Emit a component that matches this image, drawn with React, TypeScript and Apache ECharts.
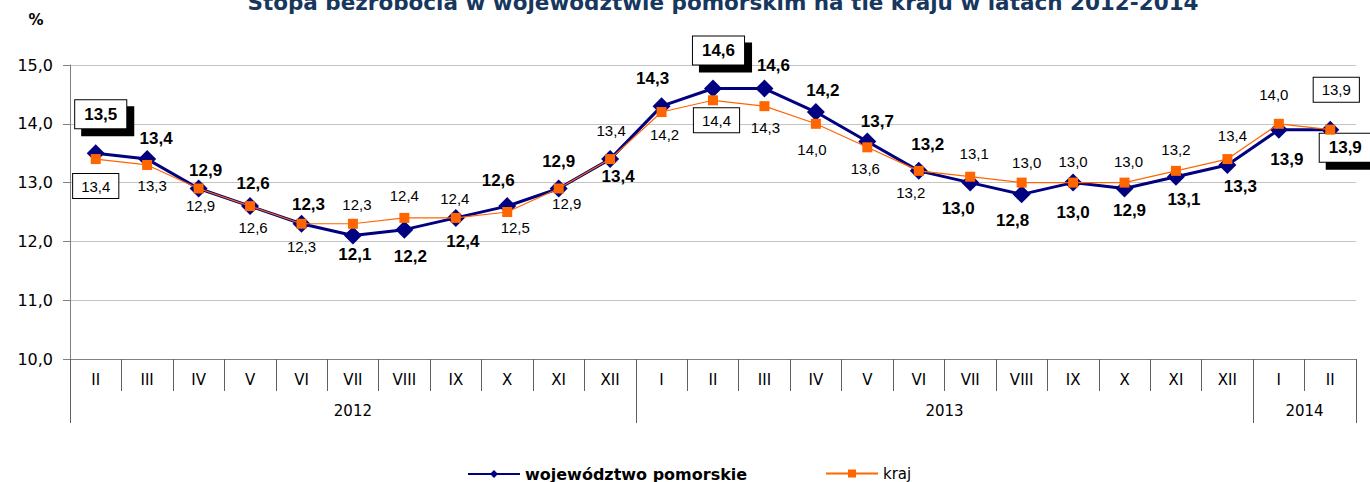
import React, { useEffect, useRef } from "react";
import * as echarts from "echarts";

const chartTitle = "Stopa bezrobocia w województwie pomorskim na tle kraju w latach 2012-2014";
const unitLabel = "%";
const months = ["II", "III", "IV", "V", "VI", "VII", "VIII", "IX", "X", "XI", "XII", "I", "II", "III", "IV", "V", "VI", "VII", "VIII", "IX", "X", "XI", "XII", "I", "II"];
const yearNames = ["2012", "2013", "2014"];
const monthsPerYear = [11, 12, 2];
const seriesNames = ["województwo pomorskie", "kraj"];
const pomorskie = [13.5, 13.4, 12.9, 12.6, 12.3, 12.1, 12.2, 12.4, 12.6, 12.9, 13.4, 14.3, 14.6, 14.6, 14.2, 13.7, 13.2, 13.0, 12.8, 13.0, 12.9, 13.1, 13.3, 13.9, 13.9];
const kraj = [13.4, 13.3, 12.9, 12.6, 12.3, 12.3, 12.4, 12.4, 12.5, 12.9, 13.4, 14.2, 14.4, 14.3, 14.0, 13.6, 13.2, 13.1, 13.0, 13.0, 13.0, 13.2, 13.4, 14.0, 13.9];
const yMin = 10;
const yMax = 15;
const yStep = 1;

// label placement (styling only)
const pomOffsets: number[][] = [
  [5, -39], [9, -21], [7, -18], [3, -23], [7, -19], [2, 19], [6, 27], [7, 24], [-9, -26], [0, -27],
  [8, 17], [-9, -28], [5.5, -38], [9, -23], [7, -22], [10, -20], [9, -26], [-12, 26], [-9, 26], [0, 30],
  [5, 22], [8, 23], [13, 22], [8, 30], [15, 18],
];
const krajOffsets: number[][] = [
  [0, 27], [5, 21], [2, 17], [3, 21], [0, 23], [4, -19], [0, -22], [-1, -19], [8, 15], [8, 15],
  [1, -29], [3, 22], [3.5, 20], [1, 21], [-4, 26], [-2, 21], [-8, 22], [4, -23], [5, -20], [0, -21],
  [4, -21], [0, -21], [5, -24], [-5, -29], [6, -40],
];
const boxedIdx = [0, 12, 24];

const fmt = (v: number) => v.toFixed(1).replace(".", ",");

export default function App() {
  const ref = useRef<HTMLDivElement>(null);
  useEffect(() => {
    document.body.style.margin = "0";
    if (!ref.current) return;
    const chart = echarts.init(ref.current, null, { renderer: "svg" });

    const cum = [0];
    monthsPerYear.forEach((m) => cum.push(cum[cum.length - 1] + m));
    const nSlots = months.length * 2 + 1;
    const boundarySlots = cum.map((c) => c * 2);
    const centerSlots: Record<number, string> = {};
    for (let i = 0; i < yearNames.length; i++) centerSlots[cum[i] + cum[i + 1]] = yearNames[i];
    const slotData = Array.from({ length: nSlots }, (_, k) => centerSlots[k] || "");

    const pomData = pomorskie.map((v, i) => {
      const boxed = boxedIdx.includes(i);
      return {
        value: v,
        label: boxed
          ? {
              offset: pomOffsets[i],
              backgroundColor: "#fff",
              borderColor: "#000",
              borderWidth: 1,
              padding: [6, 9, 5, 9],
              shadowColor: "#000",
              shadowOffsetX: 7,
              shadowOffsetY: 7,
              shadowBlur: 0,
            }
          : { offset: pomOffsets[i] },
      };
    });
    const krajData = kraj.map((v, i) => {
      const boxed = boxedIdx.includes(i);
      return {
        value: v,
        label: boxed
          ? {
              offset: krajOffsets[i],
              backgroundColor: "#fff",
              borderColor: "#000",
              borderWidth: 1,
              padding: [5, 8, 4, 8],
            }
          : { offset: krajOffsets[i] },
      };
    });

    chart.setOption({
      animation: false,
      grid: { left: 70, right: 14, top: 65, bottom: 123, containLabel: false },
      graphic: [
        {
          type: "text",
          x: 723,
          y: 2,
          style: {
            text: chartTitle,
            fontSize: 21.5,
            fontWeight: "bold",
            fontFamily: "DejaVu Sans",
            fill: "#17375E",
            align: "center",
            verticalAlign: "middle",
          },
        },
        {
          type: "text",
          x: 36,
          y: 20,
          style: {
            text: unitLabel,
            fontSize: 15,
            fontWeight: "bold",
            fontFamily: "DejaVu Sans",
            fill: "#000",
            align: "center",
            verticalAlign: "middle",
          },
        },
      ],
      legend: [
        {
          data: [{ name: seriesNames[0], textStyle: { fontWeight: "bold", fontSize: 16 } }],
          left: 462,
          top: 461,
          itemWidth: 52,
          itemHeight: 10,
          textStyle: { fontFamily: "DejaVu Sans", color: "#000" },
        },
        {
          data: [{ name: seriesNames[1] }],
          left: 820,
          top: 461,
          itemWidth: 52,
          itemHeight: 10,
          textStyle: { fontFamily: "DejaVu Sans", fontSize: 15, color: "#000" },
        },
      ],
      xAxis: [
        {
          type: "category",
          data: months,
          boundaryGap: true,
          axisLine: { lineStyle: { color: "#808080", width: 1 } },
          axisTick: { show: true, interval: 0, length: 32, lineStyle: { color: "#606060" } },
          axisLabel: { interval: 0, margin: 13, fontSize: 15, fontFamily: "DejaVu Sans", color: "#000" },
          splitLine: { show: false },
        },
        {
          type: "category",
          data: slotData,
          boundaryGap: false,
          position: "bottom",
          offset: 32,
          axisLine: { show: false },
          axisTick: {
            show: true,
            length: 32,
            interval: (idx: number) => boundarySlots.includes(idx),
            lineStyle: { color: "#606060" },
          },
          axisLabel: {
            interval: 0,
            margin: 12,
            fontSize: 15,
            fontFamily: "DejaVu Sans",
            color: "#000",
          },
          splitLine: { show: false },
        },
      ],
      yAxis: {
        type: "value",
        min: yMin,
        max: yMax,
        interval: yStep,
        axisLine: { show: true, lineStyle: { color: "#808080" } },
        axisTick: { show: true, length: 7, lineStyle: { color: "#808080" } },
        axisLabel: {
          margin: 17,
          fontSize: 16,
          fontFamily: "DejaVu Sans",
          color: "#000",
          formatter: (v: number) => fmt(v),
        },
        splitLine: { lineStyle: { color: "#C4C4C4", width: 1 } },
      },
      series: [
        {
          name: seriesNames[0],
          type: "line",
          data: pomData,
          symbol: "diamond",
          symbolSize: 18,
          itemStyle: { color: "#000080" },
          lineStyle: { color: "#000080", width: 3 },
          label: {
            show: true,
            position: "inside",
            align: "center",
            verticalAlign: "middle",
            formatter: (p: any) => fmt(p.value),
            fontFamily: "Liberation Sans",
            fontWeight: "bold",
            fontSize: 17,
            color: "#000",
          },
          z: 2,
        },
        {
          name: seriesNames[1],
          type: "line",
          data: krajData,
          symbol: "rect",
          symbolSize: 10,
          itemStyle: { color: "#FF6600" },
          lineStyle: { color: "#FF6600", width: 1.2 },
          label: {
            show: true,
            position: "inside",
            align: "center",
            verticalAlign: "middle",
            formatter: (p: any) => fmt(p.value),
            fontFamily: "Liberation Sans",
            fontSize: 15,
            color: "#000",
          },
          z: 3,
        },
      ],
    });
    return () => chart.dispose();
  }, []);
  return <div ref={ref} style={{ width: 1370, height: 482 }} />;
}
